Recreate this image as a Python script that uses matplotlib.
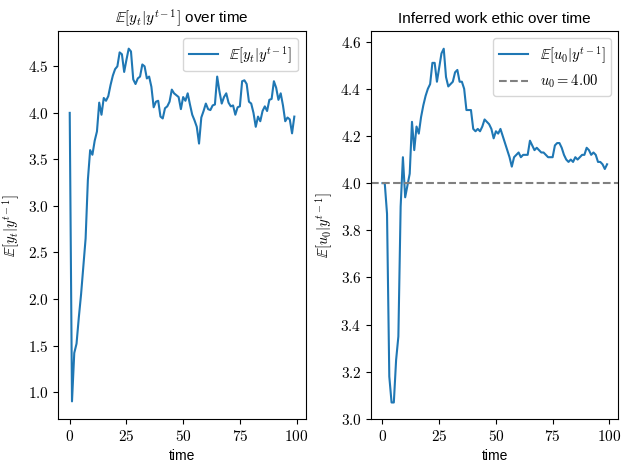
import matplotlib
matplotlib.use("Agg")
import matplotlib.pyplot as plt
from matplotlib import ticker
import numpy as np

plt.rcParams['mathtext.fontset'] = 'cm'
plt.rcParams['font.family'] = ['Liberation Sans', 'DejaVu Sans']

time = list(range(100))

ey = [4.00, 0.90, 1.42, 1.52, 1.80, 2.05, 2.35, 2.65, 3.28, 3.60,
      3.55, 3.70, 3.80, 4.11, 3.98, 4.16, 4.13, 4.18, 4.30, 4.40,
      4.47, 4.50, 4.65, 4.63, 4.44, 4.57, 4.69, 4.66, 4.36, 4.31,
      4.37, 4.39, 4.52, 4.50, 4.37, 4.39, 4.28, 4.06, 4.12, 4.13,
      3.96, 3.94, 4.05, 4.07, 4.12, 4.25, 4.21, 4.19, 4.17, 4.04,
      4.17, 4.13, 4.21, 4.09, 3.98, 3.92, 3.85, 3.67, 3.95, 4.02,
      4.10, 4.04, 4.03, 4.08, 4.09, 4.39, 4.23, 4.10, 4.17, 4.21,
      4.11, 4.07, 4.08, 3.98, 4.06, 4.07, 4.34, 4.35, 4.31, 4.12,
      4.10, 4.00, 3.85, 3.96, 3.91, 4.02, 4.07, 4.02, 4.14, 4.15,
      4.34, 4.27, 4.14, 4.21, 4.08, 3.91, 3.95, 3.93, 3.78, 3.96]

eu = [4.00, 4.00, 3.87, 3.18, 3.07, 3.07, 3.25, 3.35, 3.90, 4.11,
      3.94, 3.99, 4.04, 4.26, 4.14, 4.24, 4.21, 4.28, 4.33, 4.37,
      4.40, 4.42, 4.51, 4.51, 4.43, 4.49, 4.55, 4.57, 4.45, 4.41,
      4.42, 4.43, 4.47, 4.48, 4.43, 4.43, 4.40, 4.31, 4.31, 4.31,
      4.23, 4.22, 4.23, 4.22, 4.24, 4.27, 4.26, 4.25, 4.23, 4.19,
      4.22, 4.21, 4.23, 4.20, 4.17, 4.14, 4.11, 4.07, 4.11, 4.12,
      4.13, 4.11, 4.12, 4.12, 4.12, 4.18, 4.16, 4.14, 4.15, 4.14,
      4.13, 4.13, 4.12, 4.11, 4.11, 4.11, 4.16, 4.17, 4.17, 4.15,
      4.12, 4.10, 4.09, 4.10, 4.09, 4.11, 4.10, 4.11, 4.12, 4.12,
      4.15, 4.14, 4.12, 4.13, 4.12, 4.09, 4.09, 4.08, 4.06, 4.08]

u0 = 4.00

fig, (ax1, ax2) = plt.subplots(1, 2, figsize=(6.29, 4.7), dpi=100)
fig.subplots_adjust(left=0.093, right=0.983, bottom=0.1085, top=0.934, wspace=0.266)

ax1.plot(time, ey, color='#1f77b4', label=r'$\mathbb{E}[y_t|y^{t-1}]$')
ax1.set_title(r'$\mathbb{E}[y_t|y^{t-1}]$ over time', fontsize=11)
ax1.set_xlabel('time', fontsize=10)
ax1.set_ylabel(r'$\mathbb{E}[y_t|y^{t-1}]$', fontsize=10.5)
ax1.legend(loc='upper right', fontsize=10.5)
ax1.yaxis.set_major_formatter(ticker.FormatStrFormatter(r'$%.1f$'))
ax1.xaxis.set_major_formatter(ticker.FormatStrFormatter(r'$%d$'))

ax2.plot(time, eu, color='#1f77b4', label=r'$\mathbb{E}[u_0|y^{t-1}]$')
ax2.axhline(u0, color='gray', linestyle='--', label=r'$u_0 = %.2f$' % u0)
ax2.set_ylim(bottom=3.0)
ax2.set_title('Inferred work ethic over time', fontsize=11)
ax2.set_xlabel('time', fontsize=10)
ax2.set_ylabel(r'$\mathbb{E}[u_0|y^{t-1}]$', fontsize=10.5)
ax2.legend(loc='upper right', fontsize=10.5)
ax2.yaxis.set_major_formatter(ticker.FormatStrFormatter(r'$%.1f$'))
ax2.xaxis.set_major_formatter(ticker.FormatStrFormatter(r'$%d$'))

for ax in (ax1, ax2):
    ax.tick_params(labelsize=11)

fig.savefig('out.png', dpi=100)
